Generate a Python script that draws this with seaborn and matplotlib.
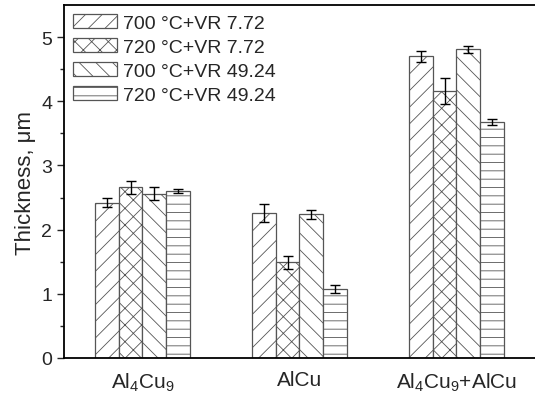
import numpy as np
import pandas as pd
import matplotlib
matplotlib.use('Agg')
import matplotlib.pyplot as plt
import seaborn as sns

# phases on the x axis and the four processing conditions
phases = ['Al$_4$Cu$_9$', 'AlCu', 'Al$_4$Cu$_9$+AlCu']
conditions = ['700 °C+VR 7.72', '720 °C+VR 7.72', '700 °C+VR 49.24', '720 °C+VR 49.24']

# mean thickness (um) for each condition, one value per phase
t_700_772 = [2.42, 2.26, 4.70]
t_720_772 = [2.66, 1.49, 4.16]
t_700_4924 = [2.56, 2.24, 4.81]
t_720_4924 = [2.60, 1.08, 3.68]

# error bar half-heights
e_700_772 = [0.07, 0.14, 0.08]
e_720_772 = [0.10, 0.10, 0.20]
e_700_4924 = [0.10, 0.07, 0.05]
e_720_4924 = [0.03, 0.06, 0.05]

means = [t_700_772, t_720_772, t_700_4924, t_720_4924]
errs = [e_700_772, e_720_772, e_700_4924, e_720_4924]

df = pd.DataFrame({
    'phase': np.tile(phases, len(conditions)),
    'condition': np.repeat(conditions, len(phases)),
    'thickness': np.concatenate(means),
})

sns.set_style('ticks')
plt.rcParams['font.family'] = ['Liberation Sans', 'DejaVu Sans']
plt.rcParams['mathtext.fontset'] = 'custom'
plt.rcParams['mathtext.rm'] = 'Liberation Sans'
plt.rcParams['mathtext.it'] = 'Liberation Sans'
plt.rcParams['hatch.linewidth'] = 0.6

fig = plt.figure(figsize=(5.35, 4.02), dpi=100)
ax = fig.add_axes([0.1196, 0.107, 0.8804, 0.878])

sns.barplot(data=df, x='phase', y='thickness', hue='condition', order=phases,
            hue_order=conditions, width=0.6, errorbar=None,
            palette=['white'] * 4, edgecolor='#555555', linewidth=0.9,
            legend=False, ax=ax)

hatches = ['//', 'xx', '\\\\', '--']
for cont, h, m, e in zip(ax.containers, hatches, means, errs):
    xs = []
    for bar in cont:
        bar.set_hatch(h)
        bar.set_facecolor('white')
        xs.append(bar.get_x() + bar.get_width() / 2)
    ax.errorbar(xs, m, yerr=e, fmt='none', ecolor='black', elinewidth=1.0,
                capsize=3.5, capthick=1.0, zorder=5)

ax.set_xlim(-0.5, 2.5)
ax.set_ylim(0, 5.5)
ax.set_yticks([0, 1, 2, 3, 4, 5])
ax.set_yticks(np.arange(0.5, 5.5, 1.0), minor=True)
ax.set_xlabel('')
ax.set_ylabel('Thickness, μm', fontsize=16)
ax.tick_params(axis='y', labelsize=14, length=5, width=1.0, direction='out')
ax.tick_params(axis='y', which='minor', length=3, width=1.0)
ax.tick_params(axis='x', labelsize=15, length=0, pad=9)

for s in ['left', 'bottom', 'top']:
    ax.spines[s].set_linewidth(1.3)
    ax.spines[s].set_color('black')
ax.spines['right'].set_visible(False)

ax.legend(ax.containers, conditions, loc='upper left', bbox_to_anchor=(0.0, 1.0),
          frameon=False, fontsize=14, handlelength=2.3, handleheight=0.75,
          handletextpad=0.3, labelspacing=0.32, borderaxespad=0.15, borderpad=0.3)

fig.savefig('out.png', dpi=100)
